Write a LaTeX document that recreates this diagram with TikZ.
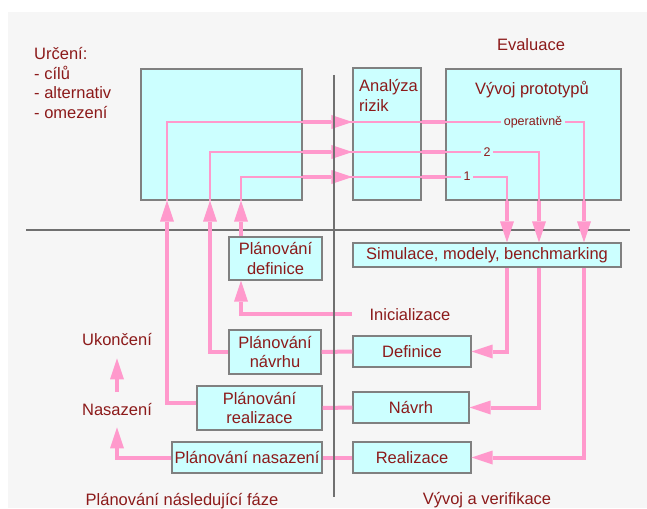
\documentclass[tikz,border=0pt]{standalone}
\usepackage{fontspec}
\setmainfont{Liberation Sans}
\usetikzlibrary{arrows.meta}
\definecolor{bg}{HTML}{F6F6F6}
\definecolor{boxfill}{HTML}{CCFFFF}
\definecolor{boxline}{HTML}{808080}
\definecolor{pinkl}{HTML}{FF99CC}
\definecolor{txt}{HTML}{8C1A1A}
\definecolor{axis}{HTML}{707070}
\begin{document}
\begin{tikzpicture}[x=1pt,y=-1pt,
  box/.style={draw=boxline, fill=boxfill, line width=1.2pt, inner sep=1pt, text=txt,
    font=\fontsize{16.5}{19.5}\selectfont, align=center},
  lbl/.style={text=txt, font=\fontsize{16.5}{19.5}\selectfont, inner sep=0pt},
  smalllbl/.style={text=txt, font=\fontsize{12.5}{14}\selectfont, fill=boxfill, inner xsep=3pt, inner ysep=1pt},
  thinln/.style={draw=pinkl, line width=1.2pt},
  thickln/.style={draw=pinkl, line width=4pt},
  arr/.style={thickln, -{Triangle[length=21pt,width=14pt,line width=0pt]}},
  axisln/.style={draw=axis, line width=1.3pt},
]
\useasboundingbox (0,0) rectangle (647,508);
\fill[bg] (8,12) rectangle (647,508);

% horizontal axis
\draw[axisln] (26,230) -- (630,230);

% boxes
\node[box, minimum width=161pt, minimum height=131pt] (big) at (221.5,134.5) {};
\node[box, minimum width=68pt, minimum height=132pt] (ar) at (387,134) {};
\node[box, minimum width=175pt, minimum height=131pt] (vp) at (533.5,134.5) {};
\node[box, minimum width=268pt, minimum height=24pt] (sim) at (487,255) {Simulace, modely, benchmarking};
\node[box, minimum width=93pt, minimum height=43pt] (pdef) at (275.5,258.5) {Plánování\\definice};
\node[box, minimum width=92pt, minimum height=44pt] (pnav) at (275,352) {Plánování\\návrhu};
\node[box, minimum width=125pt, minimum height=44pt] (preal) at (259.5,408) {Plánování\\realizace};
\node[box, minimum width=150pt, minimum height=31pt] (pnas) at (247,457.5) {Plánování nasazení};
\node[box, minimum width=118pt, minimum height=31pt] (def) at (412,351.5) {Definice};
\node[box, minimum width=116pt, minimum height=31pt] (nav) at (411,407.5) {Návrh};
\node[box, minimum width=118pt, minimum height=31pt] (real) at (412,457.5) {Realizace};

% labels
\node[lbl, align=left, anchor=north west] (urceni) at (34,47.5) {Určení:\\- cílů\\- alternativ\\- omezení};
\node[lbl, anchor=base] (eval) at (531,50.5) {Evaluace};
\node[lbl, align=left, anchor=north west] (artext) at (359,79.5) {Analýza\\rizik};
\node[lbl, anchor=base] (vptext) at (532,95) {Vývoj prototypů};
\node[lbl, anchor=base] (inic) at (410,320) {Inicializace};
\node[lbl, anchor=base] (uk) at (117,345) {Ukončení};
\node[lbl, anchor=base] (nas) at (117,415) {Nasazení};
\node[lbl, anchor=base] (plfaze) at (182,505) {Plánování následující fáze};
\node[lbl, anchor=base] (vyver) at (487,504.5) {Vývoj a verifikace};

% helper coordinates (x positions and y levels)
\coordinate (xo) at (167,0);
\coordinate (x2) at (210,0);
\coordinate (x1) at (241,0);
\coordinate (ro) at (584,0);
\coordinate (r2) at (539,0);
\coordinate (r1) at (507,0);
\coordinate (yo) at (0,122);
\coordinate (y2) at (0,152);
\coordinate (y1) at (0,177);
\coordinate (yr) at (0,403);

% thin loops through the upper boxes
\draw[thinln] (xo |- big.south) |- (ro |- yo) -- (ro |- vp.south);
\draw[thinln] (x2 |- big.south) |- (r2 |- y2) -- (r2 |- vp.south);
\draw[thinln] (x1 |- big.south) |- (r1 |- y1) -- (r1 |- vp.south);

% thick pieces between the upper boxes
\draw[arr] (big.east |- yo) -- (ar.west |- yo);
\draw[arr] (big.east |- y2) -- (ar.west |- y2);
\draw[arr] (big.east |- y1) -- (ar.west |- y1);
\draw[thickln] (ar.east |- yo) -- (vp.west |- yo);
\draw[thickln] (ar.east |- y2) -- (vp.west |- y2);
\draw[thickln] (ar.east |- y1) -- (vp.west |- y1);

% labels on the thin lines
\node[smalllbl, anchor=base] (op) at (533,125) {operativně};
\node[smalllbl, anchor=base] (n2) at (487,156) {2};
\node[smalllbl, anchor=base] (n1) at (467,180) {1};

% down into simulation
\draw[arr] (ro |- vp.south) -- (ro |- sim.north);
\draw[arr] (r2 |- vp.south) -- (r2 |- sim.north);
\draw[arr] (r1 |- vp.south) -- (r1 |- sim.north);

% from simulation to the phases
\draw[arr] (r1 |- sim.south) |- (def.east);
\draw[arr] (r2 |- sim.south) |- (nav.east);
\draw[arr] (ro |- sim.south) |- (real.east);

% phases to planning
\draw[thickln] (def.west) -- (pnav.east);
\draw[thickln] (nav.west) -- (preal.east);
\draw[thickln] (real.west) -- (pnas.east);

% planning back up into the big box
\draw[arr] (pdef.north -| x1) -- (x1 |- big.south);
\draw[arr, shorten <=17.5pt] (inic.west) -| (x1 |- pdef.south);
\draw[arr] (pnav.west) -| (x2 |- big.south);
\draw[arr] (preal.west |- yr) -| (xo |- big.south);
\draw[arr, shorten >=12pt] (pnas.west) -| (nas.south);
\draw[arr, shorten <=10.5pt, shorten >=13pt] (nas.north) -- (uk.south);

% vertical axis on top
\draw[axisln] (334,75) -- (334,497);
\end{tikzpicture}
\end{document}
